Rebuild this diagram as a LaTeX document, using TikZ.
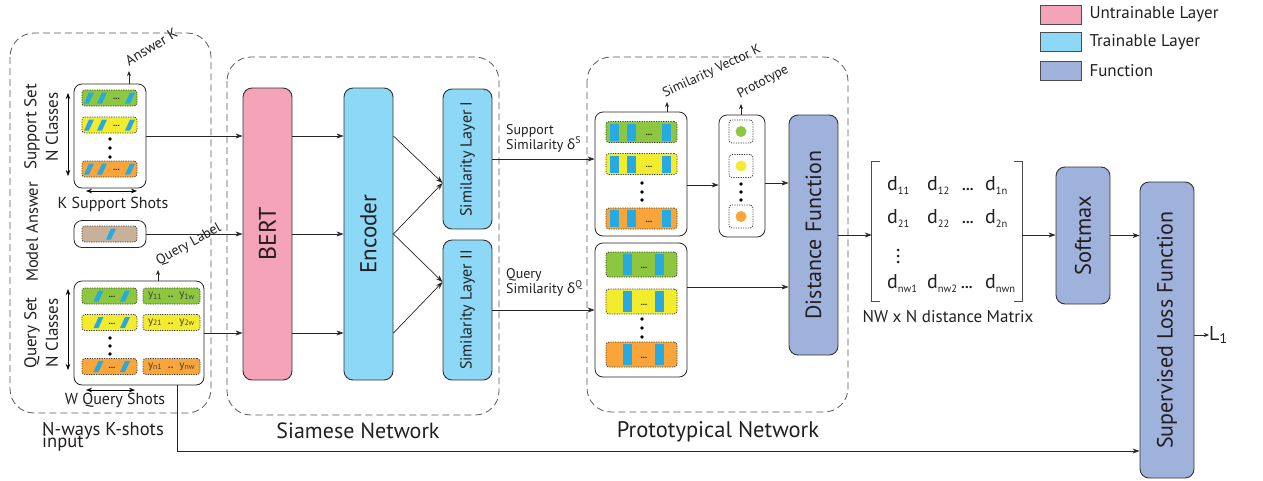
\documentclass[tikz,border=0pt]{standalone}
\usepackage{fontspec}
\setmainfont{PT Sans}
\newfontfamily\grk{Noto Sans}
\usetikzlibrary{arrows.meta}
\definecolor{untr}{HTML}{F4A3B9}
\definecolor{trn}{HTML}{8DD8F6}
\definecolor{func}{HTML}{9FB2DB}
\definecolor{cgreen}{HTML}{8DC63F}
\definecolor{cyellow}{HTML}{F3EC2E}
\definecolor{corange}{HTML}{F9A53A}
\definecolor{shotblue}{HTML}{27AAE1}
\definecolor{cbrown}{HTML}{C7B299}
\definecolor{ink}{HTML}{231F20}
\newcommand\myshot[2]{\fill[shotblue] (#1-5,#2+5.5) -- (#1,#2+5.5) -- (#1+5,#2-5.5) -- (#1,#2-5.5) -- cycle;}
\newcommand\dd[1]{d\raisebox{-4pt}{\fontsize{10.5}{10.5}\selectfont #1}}
\newcommand\fs[1]{\fontsize{#1}{#1}\selectfont}
\begin{document}
\begin{tikzpicture}[x=1pt,y=-1pt,
  every node/.style={text=ink},
  blk/.style={draw=black!80, line width=0.9pt, rounded corners=9pt, inner sep=0pt, rotate=90},
  cont/.style={draw=black!85, line width=0.8pt, rounded corners=8pt, inner sep=0pt},
  grp/.style={draw=black!65, line width=0.8pt, dash pattern=on 7pt off 4pt, rounded corners=24pt},
  cell/.style={draw=black!75, line width=0.8pt, dash pattern=on 1.2pt off 1.2pt, rounded corners=3pt, inner sep=0pt},
  arr/.style={-{Stealth[length=7pt,width=5pt]}, line width=0.7pt, draw=black!85},
  sarr/.style={-{Stealth[length=5pt,width=4pt]}, line width=0.7pt, draw=black!85},
  darr/.style={{Stealth[length=6pt,width=4.5pt]}-{Stealth[length=6pt,width=4.5pt]}, line width=0.7pt},
  dotl/.style={inner sep=0pt, font=\fs{9}\bfseries},
  lgd/.style={draw=black!70, line width=0.8pt, minimum width=41pt, minimum height=19pt, inner sep=0pt},
]
\useasboundingbox (0,0) rectangle (1263,480);

% ---------- legend
\node[lgd, fill=untr] (lg1) at (1060.5,14.5) {};
\node[lgd, fill=trn] (lg2) at (1060.5,42) {};
\node[lgd, fill=func] (lg3) at (1060.5,70.5) {};
\node[anchor=west, font=\fs{17}] (lg1t) at (1086,14.5) {Untrainable Layer};
\node[anchor=west, font=\fs{17}] (lg2t) at (1086,42) {Trainable Layer};
\node[anchor=west, font=\fs{17}] (lg3t) at (1086,70.5) {Function};

% ---------- input group
\draw[grp] (10,33) rectangle (211,413);
\node[cont, minimum width=72pt, minimum height=104pt] (sbox) at (110,136) {};
\foreach \y/\c/\n in {98/cgreen/s1, 125/cyellow/s2, 169/corange/s3}{
  \node[cell, fill=\c, minimum width=55pt, minimum height=16pt] (\n) at (109.5,\y) {};
  \myshot{89}{\y}\myshot{102}{\y}\myshot{130}{\y}
  \node[dotl] (\n-d) at (116.5,\y+1) {...};
}
\foreach \yy in {139,148,157} \fill[black] (110,\yy) circle (1.8pt);
\coordinate (sa1) at (68,93); \coordinate (sa2) at (68,176);
\draw[darr] (sa1) -- (sa2);
\coordinate (sh1) at (86,191); \coordinate (sh2) at (137,191);
\draw[darr] (sh1) -- (sh2);
\node[rotate=90, font=\fs{17}] (lss) at (32,127) {Support Set};
\node[rotate=90, font=\fs{17}] (lsn) at (52,127) {N Classes};
\node[font=\fs{16}] (lks) at (113,204) {K Support Shots};
\coordinate (ansK) at (129,71);
\draw[sarr] (sbox.north -| ansK) -- (ansK);
\node[rotate=31, anchor=base west, font=\fs{14.5}] (ansKt) at (126,68) {Answer K};

\node[cont, minimum width=72pt, minimum height=27pt] (mbox) at (110,234) {};
\node[cell, fill=cbrown, minimum width=55pt, minimum height=16pt] (m1) at (109.5,234) {};
\myshot{111}{234}
\node[rotate=90, font=\fs{16.5}] (lma) at (32,232) {Model Answer};

\node[cont, minimum width=130pt, minimum height=104pt] (qbox) at (139,333) {};
\foreach \y/\c/\n/\a/\b in {296/cgreen/q1/11/1w, 322.5/cyellow/q2/21/2w, 366.5/corange/q3/n1/nw}{
  \node[cell, fill=\c, minimum width=55pt, minimum height=16pt] (\n) at (109.5,\y) {};
  \myshot{98.5}{\y}\myshot{125}{\y}
  \node[dotl] (\n-d) at (112,\y+1) {...};
  \node[cell, fill=\c, minimum width=57pt, minimum height=16pt, font=\fs{11}, text=black!75] (\n-y) at (171.5,\y) {y\textsubscript{\a}\ \ \textbf{..}\ \ y\textsubscript{\b}};
}
\foreach \yy in {338,346,354} \fill[black] (110,\yy) circle (1.8pt);
\coordinate (qa1) at (68,289); \coordinate (qa2) at (68,370);
\draw[darr] (qa1) -- (qa2);
\coordinate (qh1) at (86,390); \coordinate (qh2) at (135,390);
\draw[darr] (qh1) -- (qh2);
\node[rotate=90, font=\fs{17}] (lqs) at (32,333) {Query Set};
\node[rotate=90, font=\fs{17}] (lqn) at (52,333) {N Classes};
\node[font=\fs{16}] (lqw) at (115,400) {W Query Shots};
\coordinate (qlab) at (158,270);
\draw[sarr] (qbox.north -| qlab) -- (qlab);
\node[rotate=29, anchor=base west, font=\fs{14}] (qlabt) at (156,267) {Query Label};
\node[anchor=north west, align=left, font=\fs{18.5}, inner sep=0pt] (nways) at (42,422) {N-ways K-shots\\[-6pt]input};

% ---------- siamese
\draw[grp] (227,57) rectangle (499,415);
\node[font=\fs{22}] (siamt) at (358,431) {Siamese Network};
\node[blk, fill=untr, minimum width=292pt, minimum height=49pt, font=\fs{24}] (bert) at (267.5,234) {BERT};
\node[blk, fill=trn, minimum width=292pt, minimum height=49pt, font=\fs{23}] (enc) at (368.5,234) {Encoder};
\node[blk, fill=trn, minimum width=140pt, minimum height=49pt, font=\fs{16}] (simI) at (467.5,159) {Similarity Layer I};
\node[blk, fill=trn, minimum width=140pt, minimum height=49pt, font=\fs{16}] (simII) at (467.5,310) {Similarity Layer II};

\draw[arr] (sbox.east) -- (sbox.east -| bert.north);
\draw[arr] (mbox.east) -- (mbox.east -| bert.north);
\draw[arr] (qbox.east) -- (qbox.east -| bert.north);
\draw[arr] (sbox.east -| bert.south) -- (sbox.east -| enc.north);
\draw[arr] (mbox.east -| bert.south) -- (mbox.east -| enc.north);
\draw[arr] (qbox.east -| bert.south) -- (qbox.east -| enc.north);
\coordinate (y183) at (0,183);
\coordinate (y282) at (0,282);
\draw[arr] (sbox.east -| enc.south) -- (simI.north |- y183);
\draw[arr] (mbox.east -| enc.south) -- (simI.north |- y183);
\draw[arr] (mbox.east -| enc.south) -- (simII.north |- y282);
\draw[arr] (qbox.east -| enc.south) -- (simII.north |- y282);

\node[anchor=west, align=left, font=\fs{14}, inner sep=0pt] (supsim) at (506,138) {Support\\[-1pt]Similarity {\grk δ}\textsuperscript{S}};
\node[anchor=west, align=left, font=\fs{14}, inner sep=0pt] (qsim) at (506,282) {Query\\[-1pt]Similarity {\grk δ}\textsuperscript{Q}};

% ---------- prototypical
\draw[grp] (587,57) rectangle (848,412);
\node[font=\fs{22.5}] (protot) at (718,432) {Prototypical Network};
\node[cont, minimum width=92pt, minimum height=124pt] (psup) at (641,174) {};
\foreach \y/\c/\n in {132/cgreen/p1, 164/cyellow/p2, 218.5/corange/p3}{
  \node[cell, fill=\c, minimum width=71pt, minimum height=21pt] (\n) at (641.5,\y) {};
  \fill[shotblue] (610,\y-8.5) rectangle (619,\y+8.5);
  \fill[shotblue] (627,\y-8.5) rectangle (636,\y+8.5);
  \fill[shotblue] (662,\y-8.5) rectangle (671,\y+8.5);
  \node[dotl] (\n-d) at (649,\y+3) {...};
}
\foreach \yy in {183,192,200} \fill[black] (642,\yy) circle (1.8pt);

\node[cont, minimum width=92pt, minimum height=134pt] (pq) at (641,310) {};
\foreach \y/\c/\n in {264.5/cgreen/r1, 301.5/cyellow/r2, 354.5/corange/r3}{
  \node[cell, fill=\c, minimum width=71pt, minimum height=25pt] (\n) at (641.5,\y) {};
  \fill[shotblue] (623,\y-10.5) rectangle (632,\y+10.5);
  \fill[shotblue] (655,\y-10.5) rectangle (664,\y+10.5);
  \node[dotl] (\n-d) at (644,\y+3) {...};
}
\foreach \yy in {319,328,337} \fill[black] (642,\yy) circle (1.8pt);

\node[cont, minimum width=46pt, minimum height=122pt] (proto) at (742,176) {};
\foreach \y/\c/\n in {131.5/cgreen/t1, 166/cyellow/t2, 216.5/corange/t3}{
  \node[cell, minimum width=24pt, minimum height=23pt] (\n) at (741,\y) {};
  \fill[\c] (741,\y) circle (5.5pt);
}
\foreach \yy in {184,192,200} \fill[black] (741,\yy) circle (1.8pt);

\coordinate (svk) at (667,102);
\draw[sarr] (psup.north -| svk) -- (svk);
\node[rotate=25, anchor=base west, font=\fs{13.5}] (svkt) at (662,99) {Similarity Vector K};
\coordinate (ptk) at (741,104);
\draw[sarr] (proto.north -| ptk) -- (ptk);
\node[rotate=28, anchor=base west, font=\fs{13.5}] (ptkt) at (737,100) {Prototype};

\draw[arr] (simI.south) -- (simI.south -| psup.west);
\draw[arr] (simII.south) -- (simII.south -| pq.west);

\node[blk, fill=func, minimum width=240pt, minimum height=49pt, font=\fs{22}] (dist) at (813.5,235) {Distance Function};
\coordinate (y185) at (0,185);
\coordinate (y287) at (0,287);
\draw[arr] (psup.east |- y185) -- (proto.west |- y185);
\draw[arr] (proto.east |- y183) -- (dist.north |- y183);
\draw[arr] (pq.east |- y287) -- (dist.north |- y287);

% ---------- matrix
\node[minimum width=150pt, minimum height=139pt, inner sep=0pt] (mat) at (947,231.5) {};
\draw[line width=0.8pt, black!70] ([xshift=8pt]mat.north west) -- (mat.north west) -- (mat.south west) -- ([xshift=8pt]mat.south west);
\draw[line width=0.8pt, black!70] ([xshift=-8pt]mat.north east) -- (mat.north east) -- (mat.south east) -- ([xshift=-8pt]mat.south east);
\begin{scope}[every node/.style={anchor=base west, inner sep=0pt, font=\fs{20}, text=ink}]
\node (m11) at (887,190) {\dd{11}};
\node (m12) at (927,190) {\dd{12}};
\node (m1d) at (962,190) {\fs{15}\textbf{...}};
\node (m1n) at (985,190) {\dd{1n}};
\node (m21) at (887,223) {\dd{21}};
\node (m22) at (927,223) {\dd{22}};
\node (m2d) at (962,223) {\fs{15}\textbf{...}};
\node (m2n) at (985,223) {\dd{2n}};
\node (m41) at (887,288) {\dd{nw1}};
\node (m42) at (927,288) {\dd{nw2}};
\node (m4d) at (961,288) {\fs{15}\textbf{...}};
\node (m4n) at (985,288) {\dd{nwn}};
\end{scope}
\foreach \yy in {250,256,262} \fill[ink] (898,\yy) circle (1.5pt);
\node[font=\fs{17}] (matt) at (948,317) {NW x N distance Matrix};

\node[blk, fill=func, minimum width=137pt, minimum height=54pt, font=\fs{22.5}] (soft) at (1083,235.5) {Softmax};
\node[blk, fill=func, minimum width=296pt, minimum height=54pt, font=\fs{22}] (sup) at (1167,330) {Supervised Loss Function};
\draw[arr] (dist.south) -- (dist.south -| mat.west);
\draw[arr] (dist.south -| mat.east) -- (dist.south -| soft.north);
\draw[arr] (soft.south) -- (soft.south -| sup.north);
\node[anchor=west, font=\fs{20}, inner sep=0pt] (L1) at (1209,335) {L\textsubscript{1}};
\draw[sarr] (sup.south |- L1.west) -- (L1.west);

\coordinate (qb) at (177,0);
\coordinate (yb) at (0,451);
\draw[arr] (qbox.south -| qb) |- (sup.north |- yb);
\end{tikzpicture}
\end{document}
